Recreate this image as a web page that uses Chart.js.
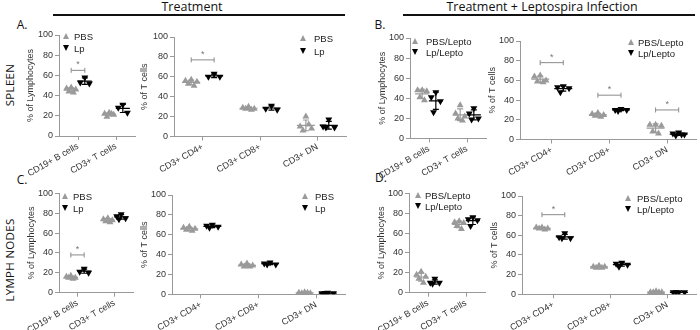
<!DOCTYPE html>
<html><head><meta charset="utf-8">
<script src="https://cdn.jsdelivr.net/npm/chart.js@4.4.1/dist/chart.umd.min.js"></script>
<style>
body{margin:0;width:700px;height:330px;background:#fff;position:relative;overflow:hidden;font-family:"Liberation Sans",Arial,sans-serif;}
.abs{position:absolute;}
.hdr{font-family:"Open Sans",sans-serif;font-size:12.5px;line-height:14px;color:#111;transform:translateX(-50%);white-space:nowrap;}
.rule{height:1.5px;background:#111;}
.let{font-family:"Open Sans",sans-serif;font-size:12px;line-height:14px;color:#111;transform:translate(-50%,-50%);}
.row{font-family:"Open Sans",sans-serif;font-size:11.5px;line-height:14px;color:#111;transform:translate(-50%,-50%) rotate(-90deg);white-space:nowrap;letter-spacing:0.3px;}
.leg{font-size:9.5px;line-height:11px;color:#222;transform:translateY(-50%);white-space:nowrap;}
.tri{width:0;height:0;border-left:3.5px solid transparent;border-right:3.5px solid transparent;transform:translate(-50%,-50%);}
.up{border-bottom:6px solid #9a9a9a;}
.dn{border-top:6px solid #000;}
canvas{position:absolute;}
</style></head><body>
<div class="abs hdr" style="left:192px;top:0px;">Treatment</div>
<div class="abs rule" style="left:53px;top:14px;width:292px;"></div>
<div class="abs hdr" style="left:542px;top:0px;">Treatment + Leptospira Infection</div>
<div class="abs rule" style="left:403px;top:14px;width:292px;"></div>
<div class="abs let" style="left:22px;top:25px;">A.</div>
<div class="abs let" style="left:380px;top:25px;">B.</div>
<div class="abs let" style="left:22px;top:180px;">C.</div>
<div class="abs let" style="left:381px;top:178px;">D.</div>
<div class="abs row" style="left:10px;top:85px;">SPLEEN</div>
<div class="abs row" style="left:10px;top:260px;">LYMPH NODES</div>
<script>
// ---------- DATA ----------
const CATS_LYM = ['CD19+ B cells', 'CD3+ T cells'];
const CATS_T = ['CD3+ CD4+', 'CD3+ CD8+', 'CD3+ DN'];
const Y_TICKS = [0, 20, 40, 60, 80, 100];
const GROUPS_TREAT = ['PBS', 'Lp'];
const GROUPS_LEPTO = ['PBS/Lepto', 'Lp/Lepto'];

// A: spleen, treatment
const A_LYM_PBS = [[48, 47, 46, 44, 43], [23, 22, 21, 19, 22]];
const A_LYM_LP  = [[58, 53, 52], [31, 28, 23]];
const A_T_PBS   = [[57, 56, 55, 53, 51], [30, 29, 28, 28, 27], [20, 10, 8, 6, 12]];
const A_T_LP    = [[63, 60, 60], [31, 28, 27], [17, 10, 9, 9]];
const A_LYM_SIG = [[0, 65]];
const A_T_SIG   = [[0, 77]];
// B: spleen, treatment + leptospira
const B_LYM_PBS = [[48, 48, 47, 41, 38], [33, 25, 22, 20, 18]];
const B_LYM_LP  = [[46, 41, 37, 26], [30, 25, 20, 19]];
const B_T_PBS   = [[65, 64, 60, 59, 58], [27, 26, 25, 24, 23], [15, 15, 14, 8, 6]];
const B_T_LP    = [[54, 53, 52, 48], [31, 30, 30, 29], [7, 6, 5, 4, 5]];
const B_LYM_SIG = [];
const B_T_SIG   = [[0, 78], [1, 45], [2, 30]];
// C: lymph nodes, treatment
const C_LYM_PBS = [[17, 16, 15, 15, 14], [75, 74, 73, 72, 71]];
const C_LYM_LP  = [[24, 21, 20], [79, 77, 75, 74]];
const C_T_PBS   = [[68, 67, 66, 65, 64], [31, 30, 29, 28, 28], [2, 1.5, 1, 1, 1.5]];
const C_T_LP    = [[70, 69, 68, 67], [32, 31, 30, 30], [1.5, 1, 1, 1.2]];
const C_LYM_SIG = [[0, 38]];
const C_T_SIG   = [];
// D: lymph nodes, treatment + leptospira
const D_LYM_PBS = [[21, 18, 16, 14, 10], [72, 71, 70, 67, 64]];
const D_LYM_LP  = [[14, 10, 10, 9], [76, 74, 73, 67]];
const D_T_PBS   = [[68, 68, 67, 67, 66], [29, 28, 28, 27, 27], [3, 2, 2, 2, 2]];
const D_T_LP    = [[62, 58, 57, 57], [32, 31, 30, 28], [2, 2, 2, 2]];
const D_LYM_SIG = [];
const D_T_SIG   = [[0, 81]];

// ---------- STYLE / LAYOUT ----------
const GRAY = '#9a9a9a', BLACK = '#000', AXIS = '#999', TXT = '#333';
const JIT = [0, -1, 1, -0.5, 0.5, 0.25];
const TFS = 9;

const statsPlugin = {
  id: 'stats',
  afterDatasetsDraw(chart, args, o) {
    const {ctx, scales: {x, y}} = chart;
    ctx.save();
    ctx.lineWidth = 1.2;
    chart.data.datasets.forEach((ds, di) => {
      const groups = o.groups[di];
      const side = di === 0 ? -1 : 1;
      groups.forEach((vals, ci) => {
        const n = vals.length;
        const mean = vals.reduce((a, b) => a + b, 0) / n;
        const sd = Math.sqrt(vals.reduce((a, b) => a + (b - mean) * (b - mean), 0) / (n - 1));
        const px = x.getPixelForValue(ci + 1 + side * o.off);
        const py = y.getPixelForValue(mean);
        ctx.strokeStyle = ds.pointBackgroundColor;
        ctx.beginPath();
        ctx.moveTo(px - o.hw, py); ctx.lineTo(px + o.hw, py);
        const t = y.getPixelForValue(mean + sd), b = y.getPixelForValue(mean - sd);
        ctx.moveTo(px, t); ctx.lineTo(px, b);
        ctx.moveTo(px - 3, t); ctx.lineTo(px + 3, t);
        ctx.moveTo(px - 3, b); ctx.lineTo(px + 3, b);
        ctx.stroke();
      });
    });
    // significance brackets
    ctx.strokeStyle = '#8a8a8a'; ctx.fillStyle = '#777'; ctx.lineWidth = 1;
    ctx.font = '9px "Liberation Sans", Arial, sans-serif';
    ctx.textAlign = 'center'; ctx.textBaseline = 'alphabetic';
    o.sig.forEach(([ci, v]) => {
      const x1 = x.getPixelForValue(ci + 1 - o.off), x2 = x.getPixelForValue(ci + 1 + o.off);
      const py = y.getPixelForValue(v);
      ctx.beginPath();
      ctx.moveTo(x1, py); ctx.lineTo(x2, py);
      ctx.moveTo(x1, py - 2.5); ctx.lineTo(x1, py + 2.5);
      ctx.moveTo(x2, py - 2.5); ctx.lineTo(x2, py + 2.5);
      ctx.stroke();
      ctx.fillText('*', (x1 + x2) / 2, py - 3);
    });
    ctx.restore();
  }
};

function legend(tx, y1, y2, textX, names) {
  const mk = (cls, x, y) => { const d = document.createElement('div'); d.className = 'abs tri ' + cls; d.style.left = x + 'px'; d.style.top = y + 'px'; document.body.appendChild(d); };
  const tx2 = (s, x, y) => { const d = document.createElement('div'); d.className = 'abs leg'; d.textContent = s; d.style.left = x + 'px'; d.style.top = y + 'px'; document.body.appendChild(d); };
  mk('up', tx, y1); mk('dn', tx, y2);
  tx2(names[0], textX, y1); tx2(names[1], textX, y2);
}

function makeChart(s) {
  const cv = document.createElement('canvas');
  cv.width = s.cw; cv.height = s.ch;
  cv.style.left = s.cx + 'px'; cv.style.top = s.cy + 'px';
  document.body.appendChild(cv);
  const lh = TFS * 1.2;
  const padL = s.titleX - lh / 2 - s.cx;
  const W = s.axisX - s.cx - padL;
  const padT = s.top - s.cy;
  const H = s.cy + s.ch - s.bottom;
  const padR = s.cx + s.cw - s.right;
  const nC = s.cats.length;
  const pts = (groups, side) => {
    const out = [];
    groups.forEach((vals, ci) => vals.forEach((v, j) => out.push({x: ci + 1 + side * s.off + JIT[j] * s.jit, y: v})));
    return out;
  };
  new Chart(cv, {
    type: 'scatter',
    data: {datasets: [
      {data: pts(s.pbs, -1), pointStyle: 'triangle', pointRadius: 4, pointBackgroundColor: GRAY, pointBorderColor: GRAY, pointBorderWidth: 0},
      {data: pts(s.lp, 1), pointStyle: 'triangle', rotation: 180, pointRotation: 180, pointRadius: 4, pointBackgroundColor: BLACK, pointBorderColor: BLACK, pointBorderWidth: 0}
    ]},
    options: {
      responsive: false, animation: false, events: [],
      layout: {padding: {left: padL, top: padT, right: padR, bottom: 0}},
      plugins: {legend: {display: false}, tooltip: {enabled: false},
        stats: {groups: [s.pbs, s.lp], off: s.off, hw: s.hw, sig: s.sig}},
      scales: {
        x: {type: 'linear', min: s.range[0], max: s.range[1],
          afterBuildTicks: sc => { sc.ticks = s.cats.map((c, i) => ({value: i + 1})); },
          afterFit: sc => { sc.height = H; },
          ticks: {autoSkip: false, maxRotation: 30, minRotation: 30, padding: 1, color: TXT,
            font: {size: TFS, family: '"Liberation Sans", Arial, sans-serif'},
            callback: (v, i) => s.cats[i]},
          grid: {drawOnChartArea: false, drawTicks: true, tickLength: 4, color: AXIS},
          border: {color: AXIS, width: 1}},
        y: {min: 0, max: 100,
          afterBuildTicks: sc => { sc.ticks = Y_TICKS.map(v => ({value: v})); },
          afterFit: sc => { sc.width = W; },
          ticks: {padding: 2, color: TXT, font: {size: TFS, family: '"Liberation Sans", Arial, sans-serif'}},
          grid: {drawOnChartArea: false, drawTicks: true, tickLength: 4, color: AXIS},
          border: {color: AXIS, width: 1},
          title: {display: true, text: s.ytitle, color: TXT, padding: 0,
            font: {size: TFS, family: '"Liberation Sans", Arial, sans-serif'}}}
      }
    },
    plugins: [statsPlugin]
  });
}

const L2 = {cats: CATS_LYM, range: [0.5, 2.5], off: 0.18, jit: 0.12, hw: 7, ytitle: '% of Lymphocytes'};
const L3 = {cats: CATS_T, off: 0.2, jit: 0.1, hw: 9, ytitle: '% of T cells'};

makeChart(Object.assign({}, L2, {cx: 0, cy: 22, cw: 150, ch: 160, axisX: 59, right: 135, top: 35, bottom: 136, titleX: 31, pbs: A_LYM_PBS, lp: A_LYM_LP, sig: A_LYM_SIG}));
makeChart(Object.assign({}, L3, {range: [0.5, 3.5], cx: 130, cy: 22, cw: 220, ch: 160, axisX: 174, right: 347, top: 37, bottom: 136.5, titleX: 145, pbs: A_T_PBS, lp: A_T_LP, sig: A_T_SIG}));
makeChart(Object.assign({}, L2, {cx: 350, cy: 22, cw: 145, ch: 160, axisX: 410, right: 486, top: 38, bottom: 138.5, titleX: 383, pbs: B_LYM_PBS, lp: B_LYM_LP, sig: B_LYM_SIG}));
makeChart(Object.assign({}, L3, {range: [0.45, 3.5], cx: 470, cy: 22, cw: 230, ch: 160, axisX: 520, right: 699, top: 41, bottom: 139.5, titleX: 493, pbs: B_T_PBS, lp: B_T_LP, sig: B_T_SIG}));
makeChart(Object.assign({}, L2, {cx: 0, cy: 180, cw: 150, ch: 150, axisX: 59, right: 133, top: 193.3, bottom: 292.7, titleX: 32, pbs: C_LYM_PBS, lp: C_LYM_LP, sig: C_LYM_SIG}));
makeChart(Object.assign({}, L3, {range: [0.5, 3.5], cx: 130, cy: 180, cw: 220, ch: 150, axisX: 172, right: 345, top: 195, bottom: 294.3, titleX: 145, pbs: C_T_PBS, lp: C_T_LP, sig: C_T_SIG}));
makeChart(Object.assign({}, L2, {cx: 350, cy: 180, cw: 145, ch: 150, axisX: 409, right: 485, top: 193.3, bottom: 292.7, titleX: 382, pbs: D_LYM_PBS, lp: D_LYM_LP, sig: D_LYM_SIG}));
makeChart(Object.assign({}, L3, {range: [0.45, 3.5], cx: 470, cy: 180, cw: 230, ch: 150, axisX: 522, right: 699, top: 196, bottom: 294.3, titleX: 495, pbs: D_T_PBS, lp: D_T_LP, sig: D_T_SIG}));

legend(66, 36, 48, 74, GROUPS_TREAT);
legend(303, 38, 51, 314, GROUPS_TREAT);
legend(415, 41, 52, 426, GROUPS_LEPTO);
legend(631, 42, 53, 638, GROUPS_LEPTO);
legend(65, 196, 208, 73, GROUPS_TREAT);
legend(305, 196, 208, 315, GROUPS_TREAT);
legend(418, 194.5, 206, 425, GROUPS_LEPTO);
legend(628, 198, 209, 637, GROUPS_LEPTO);
</script>
</body></html>
